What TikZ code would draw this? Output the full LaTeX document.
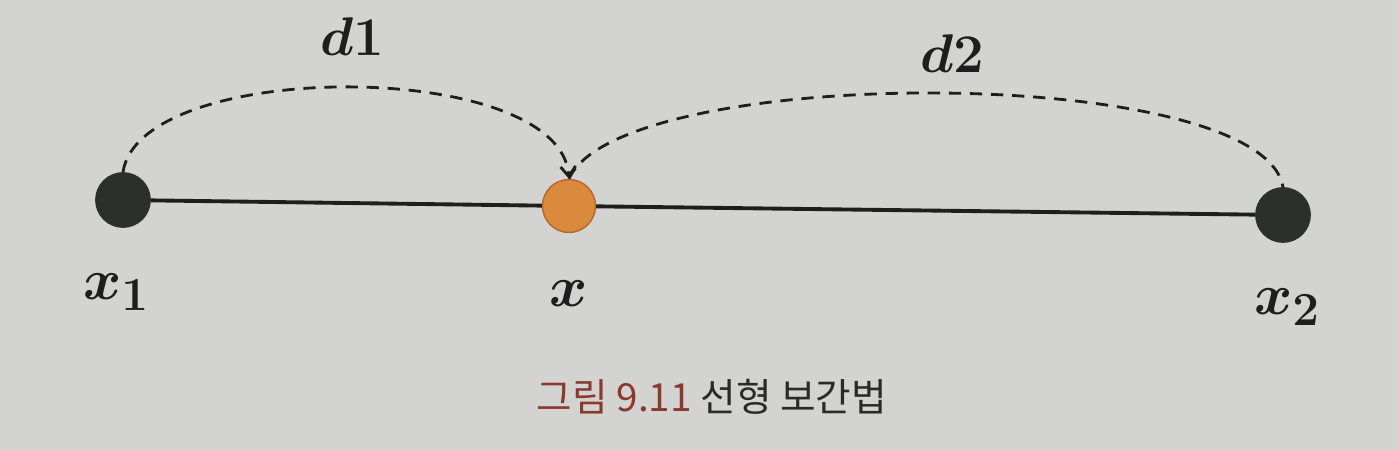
\RequirePackage{fix-cm}
\documentclass[tikz,border=0pt]{standalone}
\usepackage{fontspec}
\usepackage{bm}
\DeclareMathSizes{33}{33}{27}{20}
\newfontfamily\krfont{Noto Sans CJK KR}
\usepackage{xcolor}
\definecolor{cPaper}{HTML}{D3D3D1}
\definecolor{cDot}{HTML}{2B302B}
\definecolor{cOrange}{HTML}{D98A3C}
\definecolor{cOrangeDk}{HTML}{B8662C}
\definecolor{cInk}{HTML}{1E1E1E}
\definecolor{cCapRed}{HTML}{8A3A2C}
\definecolor{cCapGray}{HTML}{2A2A2A}
\usepackage{tikz}
\usetikzlibrary{arrows.meta}
\tikzset{
  node-dot/.style={circle,fill=cDot,draw=cDot,inner sep=0pt,minimum size=11mm},
  node-mid/.style={circle,fill=cOrange,draw=cOrangeDk,thick,inner sep=0pt,minimum size=10.6mm},
  node-xlabel/.style={text=cInk,font=\fontsize{33}{38}\selectfont},
  node-dlabel/.style={text=cInk,font=\fontsize{31}{36}\selectfont},
  line-main/.style={draw=cInk,line width=2.2pt},
  arc-dash/.style={draw=cInk,line width=1.6pt,dash pattern=on 7pt off 5pt},
  arrow-dash/.style={arc-dash,-{Straight Barb[length=2mm,width=3mm]}},
}

\begin{document}
\begin{tikzpicture}[x=0.2mm,y=-0.2mm]
  \fill[cPaper] (0,0) rectangle (1399,450);
  \useasboundingbox (0,0) rectangle (1399,450);
  % points
  \node[node-dot] (x1) at (123,200) {};
  \node[node-mid] (x)  at (569,206) {};
  \node[node-dot] (x2) at (1283,215) {};
  \draw[line-main] (x1) -- (x);
  \draw[line-main] (x)  -- (x2);
  % distances
  \draw[arrow-dash] (x1.north) .. controls (140,58) and (560,58) .. (x.north);
  \draw[arc-dash] (x.north) .. controls (620,63) and (1262,63) .. (x2.north);
  \node[node-dlabel] (d1) at (352,37) {$\bm{d1}$};
  \node[node-dlabel] (d2) at (952,54) {$\bm{d2}$};
  % labels
  \node[node-xlabel] (lx1) at (116,292) {$\bm{x_1}$};
  \node[node-xlabel] (lx)  at (569,294) {$\bm{x}$};
  \node[node-xlabel] (lx2) at (1287,307) {$\bm{x_2}$};
  \node[font=\krfont\fontsize{22}{26}\selectfont] (cap) at (712,397)
    {\textcolor{cCapRed}{그림 9.11}\ \textcolor{cCapGray}{선형 보간법}};
\end{tikzpicture}
\end{document}
